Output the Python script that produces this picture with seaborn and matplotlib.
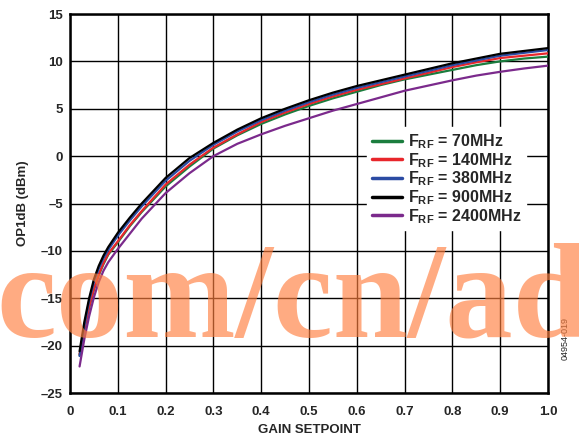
import matplotlib
matplotlib.use("Agg")
import matplotlib.pyplot as plt
import pandas as pd
import seaborn as sns

# data
gain = [0.02, 0.03, 0.04, 0.05, 0.06, 0.07, 0.08, 0.10, 0.125, 0.15, 0.20, 0.25, 0.30, 0.35,
        0.40, 0.45, 0.50, 0.55, 0.60, 0.65, 0.70, 0.75, 0.80, 0.85, 0.90, 0.95, 1.00]

op1db_70 = [-21.0, -18.3, -16.0, -14.1, -12.6, -11.4, -10.4, -9.1, -7.4, -5.9, -3.2, -1.1, 0.8, 2.2,
            3.4, 4.4, 5.3, 6.1, 6.8, 7.5, 8.1, 8.6, 9.1, 9.6, 10.0, 10.3, 10.5]
op1db_140 = [-20.9, -18.2, -15.9, -14.0, -12.5, -11.3, -10.3, -9.0, -7.3, -5.8, -3.0, -0.9, 0.9, 2.3,
             3.6, 4.6, 5.5, 6.3, 7.0, 7.6, 8.2, 8.8, 9.4, 9.9, 10.35, 10.6, 10.85]
op1db_380 = [-21.1, -17.9, -15.3, -13.3, -11.9, -10.8, -9.9, -8.4, -6.8, -5.3, -2.6, -0.5, 1.2, 2.6,
             3.8, 4.8, 5.7, 6.5, 7.2, 7.8, 8.4, 9.0, 9.6, 10.1, 10.6, 10.9, 11.2]
op1db_900 = [-20.6, -17.5, -15.0, -13.0, -11.6, -10.5, -9.6, -8.1, -6.5, -5.0, -2.3, -0.2, 1.4, 2.8,
             4.0, 5.0, 5.9, 6.7, 7.4, 8.0, 8.6, 9.2, 9.8, 10.3, 10.8, 11.1, 11.4]
op1db_2400 = [-22.2, -19.3, -16.9, -14.9, -13.3, -12.1, -11.2, -9.8, -8.2, -6.6, -3.9, -1.8, 0.0, 1.3,
              2.3, 3.2, 4.0, 4.8, 5.5, 6.2, 6.9, 7.45, 8.0, 8.5, 8.9, 9.25, 9.55]

series_names = ["F$_\\mathregular{RF}$ = 70MHz", "F$_\\mathregular{RF}$ = 140MHz",
                "F$_\\mathregular{RF}$ = 380MHz", "F$_\\mathregular{RF}$ = 900MHz",
                "F$_\\mathregular{RF}$ = 2400MHz"]
series_vals = [op1db_70, op1db_140, op1db_380, op1db_900, op1db_2400]
colors = ["#1b7d3e", "#e8262b", "#2b4ba3", "#000000", "#7b2a8c"]

xticks = [0, 0.1, 0.2, 0.3, 0.4, 0.5, 0.6, 0.7, 0.8, 0.9, 1.0]
xtick_labels = ["0", "0.1", "0.2", "0.3", "0.4", "0.5", "0.6", "0.7", "0.8", "0.9", "1.0"]
yticks = [-25, -20, -15, -10, -5, 0, 5, 10, 15]
ytick_labels = ["\u201325", "\u201320", "\u201315", "\u201310", "\u20135", "0", "5", "10", "15"]

rows = []
for name, vals in zip(series_names, series_vals):
    for g, v in zip(gain, vals):
        rows.append({"gain": g, "op1db": v, "freq": name})
df = pd.DataFrame(rows)

sns.set_style("white")
plt.rcParams["font.family"] = ["Liberation Sans", "DejaVu Sans"]
plt.rcParams["font.weight"] = "bold"
plt.rcParams["mathtext.default"] = "regular"

fig = plt.figure(figsize=(5.79, 4.40), dpi=100)
ax = fig.add_axes([70 / 579, 1 - 393 / 440, 478 / 579, 379 / 440])

sns.lineplot(data=df, x="gain", y="op1db", hue="freq", palette=colors,
             hue_order=series_names, linewidth=1.6, ax=ax, zorder=3)

ax.set_xlim(0, 1.0)
ax.set_ylim(-25, 15)
ax.set_xticks(xticks)
ax.set_xticklabels(xtick_labels, fontsize=9.5, fontweight="bold")
ax.set_yticks(yticks)
ax.set_yticklabels(ytick_labels, fontsize=9.5, fontweight="bold")
ax.tick_params(axis="x", length=0, pad=9)
ax.tick_params(axis="y", length=0, pad=5)
ax.grid(True, color="black", linewidth=1.0)
for s in ax.spines.values():
    s.set_color("black")
    s.set_linewidth(1.8)

ax.set_xlabel("GAIN SETPOINT", fontsize=9.5, fontweight="bold", labelpad=5)
ax.set_ylabel("OP1dB (dBm)", fontsize=9.5, fontweight="bold", labelpad=9)

leg = ax.legend(loc="upper left", bbox_to_anchor=(0.605, 0.722), frameon=True,
                fontsize=11.5, handlelength=1.9, labelspacing=0.0, borderpad=0.3,
                handletextpad=0.35)
leg.get_frame().set_facecolor("white")
leg.get_frame().set_edgecolor("white")
leg.get_frame().set_alpha(1)
leg.set_zorder(5)
for t in leg.get_texts():
    t.set_fontweight("bold")
for h in leg.get_lines():
    h.set_linewidth(2.5)

fig.text(565 / 579, 1 - 338 / 440, "04954-019", rotation=90, fontsize=6.5,
         fontweight="normal", ha="center", va="center")

# watermark
fig.text(0.505, 1 - 337 / 440, "com/cn/ad", fontsize=97, family="Liberation Serif",
         fontweight="bold", color="#ff7f3f", alpha=0.65, ha="center", va="baseline", zorder=10)

plt.savefig("out.png", dpi=100)
